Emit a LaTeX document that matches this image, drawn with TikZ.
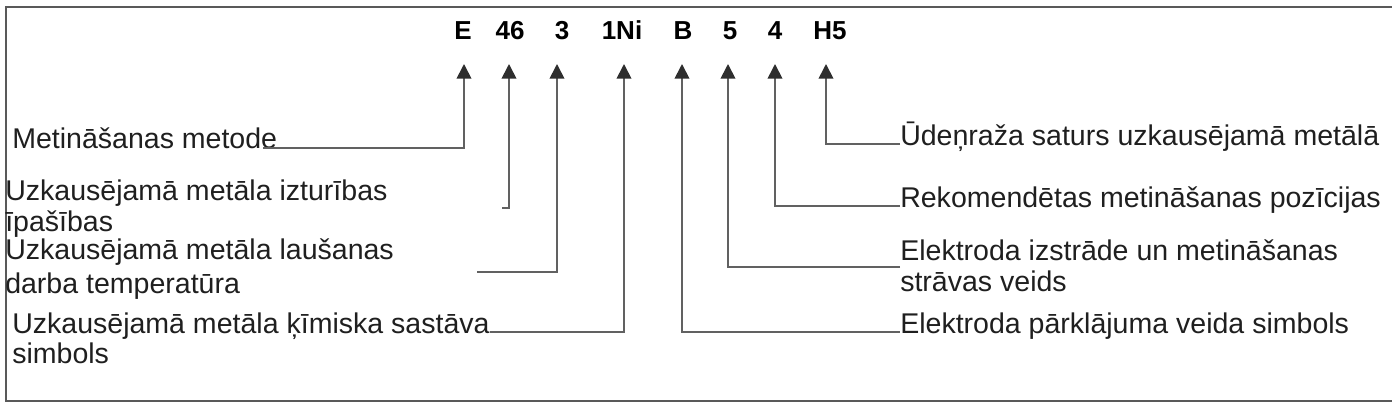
\documentclass[tikz,border=0pt]{standalone}
\usepackage{fontspec}
\setmainfont{Liberation Sans}
\usetikzlibrary{arrows.meta}
\begin{document}
\begin{tikzpicture}[x=0.75pt,y=-0.75pt,
  lbl/.style={anchor=base west,inner sep=0pt,font=\fontsize{21.4}{23.25}\selectfont,text=black!88,align=left},
  code/.style={anchor=base,inner sep=0pt,font=\fontsize{19.5}{21}\selectfont\bfseries,text=black},
  conn/.style={draw=black!62,line width=1.3pt},
  arr/.style={conn,-{Triangle[width=11pt,length=11pt,fill=black!82,color=black!82]}},
  frame/.style={draw=black!65,line width=1.5pt}]
\useasboundingbox (0,0) rectangle (1392,404);
\draw[frame] (1392,7) -- (6,7) -- (6,401) -- (1392,401);
% codes
\node[code] (cE)   at (463,39) {E};
\node[code] (c46)  at (510,39) {46};
\node[code] (c3)   at (562,39) {3};
\node[code] (c1Ni) at (622,39) {1Ni};
\node[code] (cB)   at (683,39) {B};
\node[code] (c5)   at (730,39) {5};
\node[code] (c4)   at (775,39) {4};
\node[code] (cH5)  at (830,39) {H5};
% arrow tips
\coordinate (tE)   at (464,64);
\coordinate (t46)  at (509,64);
\coordinate (t3)   at (557,64);
\coordinate (t1Ni) at (624,64);
\coordinate (tB)   at (682,64);
\coordinate (t5)   at (728,64);
\coordinate (t4)   at (775,64);
\coordinate (tH5)  at (826,64);
% left labels (anchor = baseline of last line)
\node[lbl] (lM) at (12,148) {Metinā\v{s}anas metode};
\node[lbl] (lI) at (5,231) {Uzkausējamā metāla izturības\\īpa\v{s}ības};
\node[lbl] (lL) at (5,293) {Uzkausējamā metāla lau\v{s}anas\\[2.25pt]darba temperatūra};
\node[lbl] (lK) at (12,363) {Uzkausējamā metāla ķīmiska sastāva\\[-0.75pt]simbols};
% right labels
\node[lbl] (lH) at (900,145) {Ūdeņraža saturs uzkausējamā metālā};
\node[lbl] (lR) at (900,207) {Rekomendētas metinā\v{s}anas pozīcijas};
\node[lbl] (lE) at (900,291) {Elektroda izstrāde un metinā\v{s}anas\\strāvas veids};
\node[lbl] (lP) at (900,333) {Elektroda pārklājuma veida simbols};
% free ends
\coordinate (s46) at (502,208);
\coordinate (s3)  at (477,272);
% connectors
\draw[arr] ([xshift=-10.5pt]lM.base east) -| (tE);
\draw[arr] (s46) -| (t46);
\draw[arr] (s3) -| (t3);
\draw[arr] ([yshift=23.25pt]lK.base east) -| (t1Ni);
\draw[arr] ([yshift=0.75pt]lP.base west) -| (tB);
\draw[arr] ([yshift=18pt]lE.base west) -| (t5);
\draw[arr] ([yshift=0.75pt]lR.base west) -| (t4);
\draw[arr] ([yshift=0.75pt]lH.base west) -| (tH5);
\end{tikzpicture}
\end{document}
